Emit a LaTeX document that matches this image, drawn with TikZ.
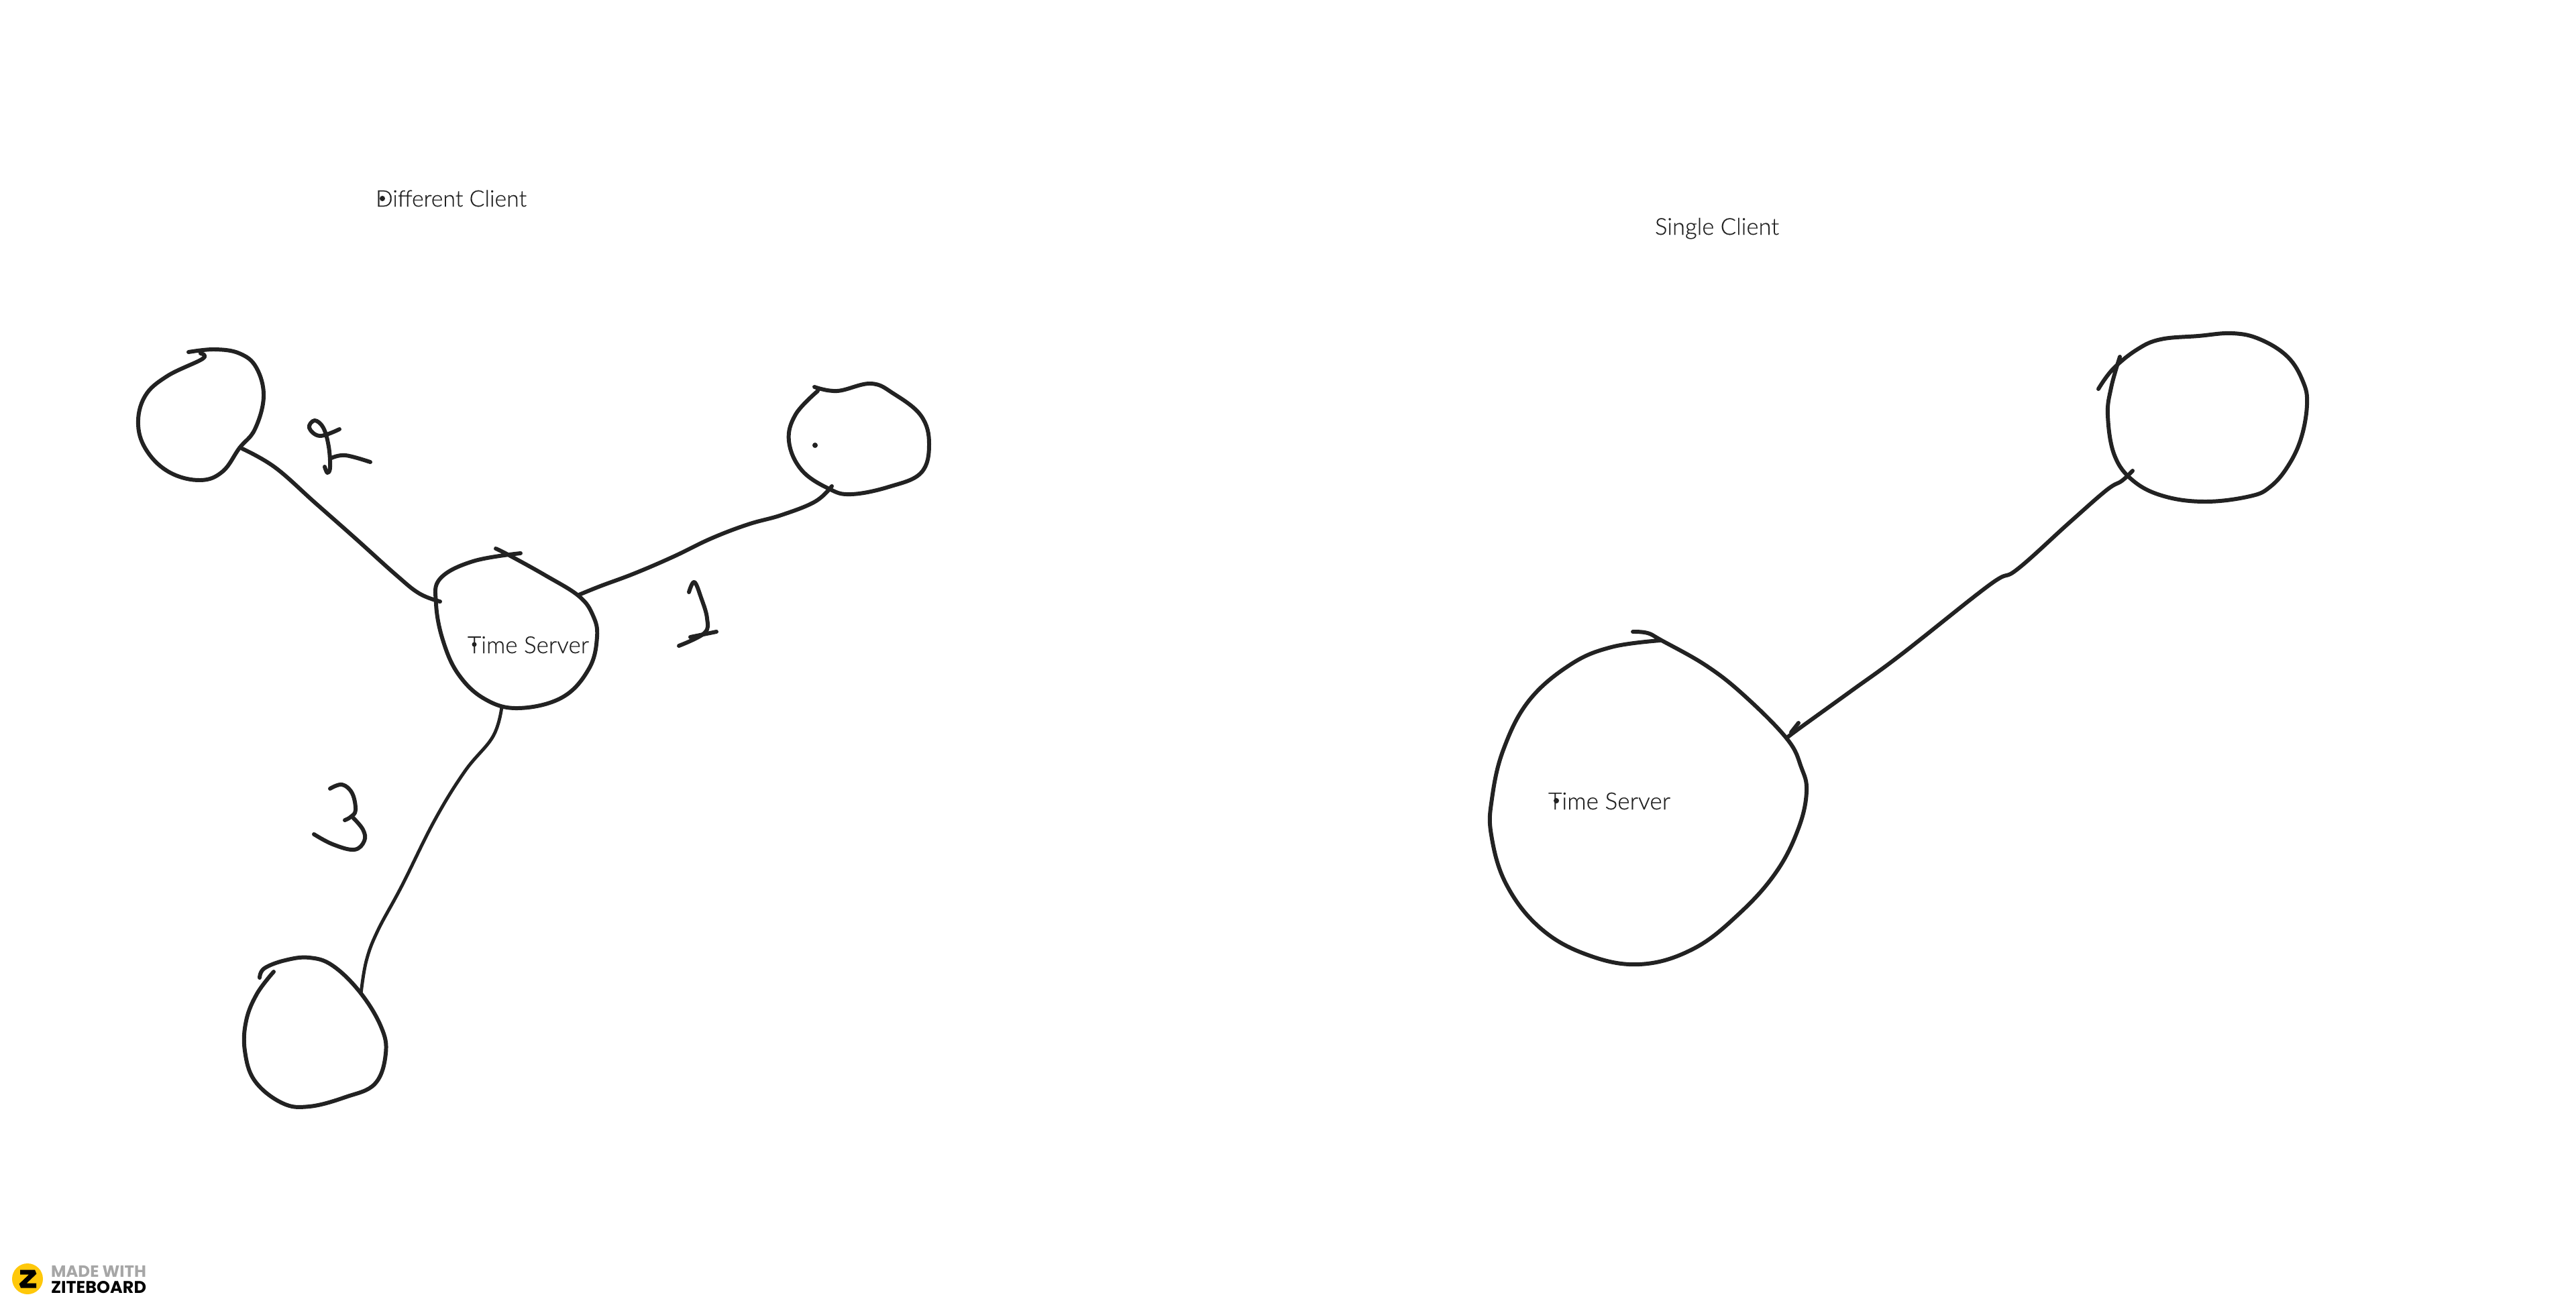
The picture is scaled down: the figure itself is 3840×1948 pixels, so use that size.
\documentclass[tikz,border=0pt]{standalone}
\usepackage{fontspec}
\usepackage{graphicx}
\setmainfont[FakeBold=0.4]{Lato Light}
\newfontfamily\logofont{Poppins}
\definecolor{ink}{HTML}{222222}
\definecolor{zyellow}{HTML}{FFC80A}
\definecolor{zgray}{HTML}{A6A6A6}
\newcommand{\lab}[2]{\resizebox{#1}{!}{\fontsize{24}{28}\selectfont #2}}
\tikzset{
  sketch/.style={line width=3.4pt,color=ink,line cap=round,line join=round},
  sketchthin/.style={line width=2.8pt,color=ink,line cap=round,line join=round},
  label/.style={inner sep=0pt,outer sep=0pt,text=ink,anchor=base west},
  penmark/.style={fill=ink,draw=none},
  curvy/.style={smooth,tension=0.65}
}
\begin{document}
\begin{tikzpicture}[x=0.2mm,y=-0.2mm]
\useasboundingbox[fill=white] (0,0) rectangle (3840,1948);
% titles
\node[label] (t1) at (560,308) {\lab{45mm}{Different Client}};
\node[label] (t2) at (2467,350) {\lab{37mm}{Single Client}};
\node[label] (s1) at (697,974) {\lab{36.2mm}{Time Server}};
\node[label] (s2) at (2308,1207) {\lab{36.4mm}{Time Server}};
\fill[penmark] (570,296) circle (4);
\fill[penmark] (707,961) circle (3.5);
\fill[penmark] (2320,1194) circle (4);
\fill[penmark] (1215,664) circle (4);
% anchors of the connectors
\coordinate (cA) at (361,669);
\coordinate (cB) at (656,897);
\coordinate (cC) at (1240,725);
\coordinate (cD) at (863,887);
\coordinate (cE) at (748,1054);
\coordinate (cF) at (538,1482);
\coordinate (cG) at (3179,702);
\coordinate (cH) at (2664,1100);
% left group: top-left client
\draw[sketch] plot[curvy] coordinates {(281,525) (320,521) (357,527) (382,548) (393,591) (380,640) (357,668) (332,703) (299,716) (254,705) (220,674) (206,634) (216,591) (249,561) (302,535) (299,527)};
% time server
\draw[sketch] plot[curvy] coordinates {(739,818) (759,828) (813,858) (863,889) (884,918) (890,950) (878,997) (838,1040) (772,1056) (722,1042) (683,1005) (660,954) (650,900) (656,863) (705,837) (776,825)};
% right client
\draw[sketch] plot[curvy] coordinates {(1214,577) (1248,583) (1298,572) (1332,587) (1373,620) (1385,662) (1373,705) (1325,726) (1269,737) (1236,729) (1195,701) (1176,658) (1186,618) (1219,583)};
% bottom client
\draw[sketch] plot[curvy] coordinates {(387,1458) (394,1444) (425,1432) (461,1428) (496,1440) (537,1480) (568,1531) (575,1571) (559,1616) (515,1636) (461,1650) (421,1645) (380,1612) (365,1567) (367,1522) (383,1482) (408,1449)};
% connectors
\draw[sketch] plot[curvy] coordinates {(cA) (410,697) (470,750) (530,803) (590,857) (625,885) (cB)};
\draw[sketch] plot[curvy] coordinates {(cC) (1215,748) (1165,768) (1115,782) (1060,803) (1004,830) (946,855) (895,874) (cD)};
\draw[sketchthin] plot[curvy] coordinates {(cE) (735,1098) (693,1150) (648,1223) (599,1321) (563,1388) (546,1433) (cF)};
% digits
\draw[sketch] plot[curvy] coordinates {(506,640) (477,650) (461,638) (469,627) (482,638) (490,666) (492,697) (488,705) (484,696)};
\draw[sketch] plot[curvy] coordinates {(494,683) (515,679) (552,689)};
\draw[sketch] plot[curvy] coordinates {(1027,883) (1035,868) (1045,891) (1054,922) (1050,944) (1012,963)};
\draw[sketch] plot[curvy] coordinates {(1029,950) (1068,942)};
\draw[sketch] plot[curvy] coordinates {(492,1176) (510,1170) (525,1183) (530,1208) (523,1218) (514,1223)};
\draw[sketch] plot[curvy] coordinates {(525,1218) (541,1237) (543,1254) (528,1267) (496,1259) (468,1244)};
% right group: time server
\draw[sketch] plot[curvy] coordinates {(2434,942) (2456,944) (2477,955) (2544,993) (2601,1038) (2664,1102) (2685,1144) (2693,1180) (2681,1235) (2648,1300) (2593,1362) (2524,1415) (2444,1438) (2364,1423) (2295,1383) (2245,1318) (2223,1245) (2224,1191) (2241,1118) (2279,1045) (2341,991) (2402,965) (2475,955)};
% right group: client
\draw[sketch] plot[curvy] coordinates {(3128,580) (3150,550) (3186,521) (3221,506) (3277,501) (3328,497) (3369,506) (3410,532) (3433,569) (3439,603) (3430,654) (3410,696) (3384,726) (3354,740) (3288,748) (3226,740) (3180,717) (3152,679) (3142,620) (3147,578) (3160,532)};
% right group: connector
\draw[sketch] plot[curvy] coordinates {(cG) (3163,717) (3140,731) (3084,780) (3007,849) (2966,872) (2834,976) (2760,1030) (2681,1087) (cH)};
\draw[sketch] (2681,1078) -- (2670,1092);
% logo
\fill[zyellow] (41,1907) circle (23);
\draw[line width=4pt,black,line join=miter,miter limit=2] (30,1897) -- (52,1897) -- (31,1917) -- (54,1917);
\node[inner sep=0pt,outer sep=0pt,anchor=base west,text=zgray] (lg1) at (76,1904) {\resizebox{28.4mm}{3.4mm}{\logofont\bfseries MADE WITH}};
\node[inner sep=0pt,outer sep=0pt,anchor=base west,text=black] (lg2) at (76,1928) {\resizebox{28.4mm}{3.6mm}{\logofont\bfseries ZITEBOARD}};
\end{tikzpicture}
\end{document}
